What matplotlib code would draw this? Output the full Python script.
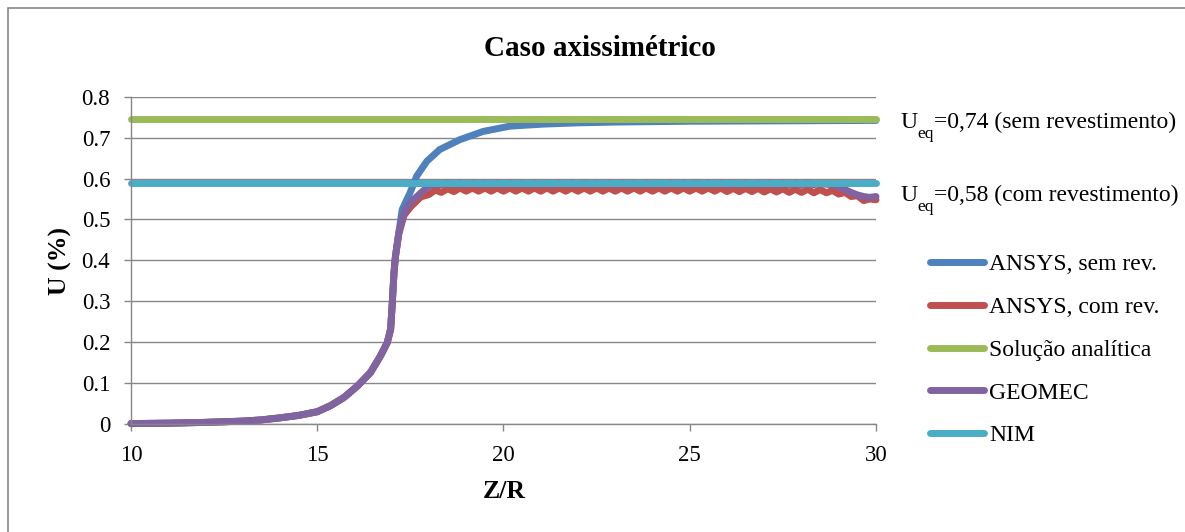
import matplotlib
matplotlib.use("Agg")
import matplotlib.pyplot as plt
from matplotlib.patches import Rectangle

plt.rcParams['font.family'] = ['Liberation Serif', 'DejaVu Serif']

# curva ANSYS sem revestimento
z_sem = [10, 11, 12, 13, 13.5, 14, 14.5, 15, 15.36, 15.72, 16.08, 16.43, 16.7, 16.88,
         16.97, 17.01, 17.06, 17.1, 17.19, 17.28, 17.49, 17.67, 17.94, 18.29, 18.83,
         19.45, 20.17, 21.07, 21.96, 23, 25, 27.5, 30]
u_sem = [0.001, 0.002, 0.004, 0.007, 0.010, 0.015, 0.021, 0.030, 0.045, 0.065, 0.093,
         0.126, 0.167, 0.199, 0.232, 0.289, 0.370, 0.410, 0.468, 0.524, 0.565, 0.606,
         0.642, 0.671, 0.695, 0.715, 0.728, 0.733, 0.736, 0.738, 0.740, 0.741, 0.742]

# trecho de subida (comum a ANSYS com rev. e GEOMEC)
z_rise = [10, 11, 12, 13, 13.5, 14, 14.5, 15, 15.36, 15.72, 16.08, 16.43, 16.7, 16.88,
          16.97, 17.01, 17.06, 17.1, 17.19, 17.33, 17.5, 17.78]
u_com_rise = [0.001, 0.002, 0.004, 0.007, 0.010, 0.015, 0.021, 0.030, 0.045, 0.065, 0.093,
              0.126, 0.167, 0.199, 0.232, 0.289, 0.370, 0.410, 0.465, 0.510, 0.530, 0.555]
u_geo_rise = [0.001, 0.002, 0.004, 0.007, 0.010, 0.015, 0.021, 0.030, 0.045, 0.065, 0.093,
              0.126, 0.167, 0.199, 0.232, 0.289, 0.370, 0.410, 0.468, 0.516, 0.541, 0.565]

# trecho final (oscilacoes)
z_tail = [18.0, 18.17, 18.33, 18.5, 18.67, 18.83, 19.0, 19.17, 19.33, 19.5, 19.67, 19.83,
          20.0, 20.17, 20.33, 20.5, 20.67, 20.83, 21.0, 21.17, 21.33, 21.5, 21.67, 21.83,
          22.0, 22.17, 22.33, 22.5, 22.67, 22.83, 23.0, 23.17, 23.33, 23.5, 23.67, 23.83,
          24.0, 24.17, 24.33, 24.5, 24.67, 24.83, 25.0, 25.17, 25.33, 25.5, 25.67, 25.83,
          26.0, 26.17, 26.33, 26.5, 26.67, 26.83, 27.0, 27.17, 27.33, 27.5, 27.67, 27.83,
          28.0, 28.17, 28.33, 28.5, 28.67, 28.83, 29.0, 29.17, 29.33, 29.5, 29.67, 29.83, 30.0]
u_com_tail = [0.561, 0.572, 0.566, 0.575, 0.568, 0.577, 0.569, 0.577, 0.569, 0.577, 0.569, 0.577,
              0.569, 0.577, 0.569, 0.577, 0.569, 0.577, 0.569, 0.577, 0.569, 0.577, 0.569, 0.577,
              0.569, 0.577, 0.569, 0.577, 0.569, 0.577, 0.569, 0.577, 0.569, 0.577, 0.569, 0.577,
              0.569, 0.577, 0.569, 0.577, 0.569, 0.577, 0.569, 0.577, 0.569, 0.577, 0.569, 0.577,
              0.568, 0.576, 0.568, 0.576, 0.568, 0.576, 0.567, 0.575, 0.567, 0.575, 0.566, 0.574,
              0.566, 0.574, 0.565, 0.573, 0.565, 0.571, 0.562, 0.566, 0.556, 0.558, 0.546, 0.550, 0.548]
u_geo_tail = [0.582, 0.586, 0.585, 0.589, 0.585, 0.589, 0.585, 0.589, 0.585, 0.589, 0.585, 0.589,
              0.585, 0.589, 0.585, 0.589, 0.585, 0.589, 0.585, 0.589, 0.585, 0.589, 0.585, 0.589,
              0.585, 0.589, 0.585, 0.589, 0.585, 0.589, 0.585, 0.589, 0.585, 0.589, 0.585, 0.589,
              0.585, 0.589, 0.585, 0.589, 0.585, 0.589, 0.585, 0.589, 0.585, 0.589, 0.585, 0.589,
              0.585, 0.589, 0.585, 0.589, 0.585, 0.589, 0.585, 0.589, 0.585, 0.589, 0.585, 0.589,
              0.585, 0.589, 0.585, 0.588, 0.586, 0.585, 0.580, 0.573, 0.566, 0.560, 0.556, 0.554, 0.556]

u_analitica = 0.745
u_nim = 0.59

x_ticks = [10, 15, 20, 25, 30]
y_ticks = [0, 0.1, 0.2, 0.3, 0.4, 0.5, 0.6, 0.7, 0.8]
y_ticklabels = ['0', '0.1', '0.2', '0.3', '0.4', '0.5', '0.6', '0.7', '0.8']

labels = ['ANSYS, sem rev.', 'ANSYS, com rev.', 'Solução analítica', 'GEOMEC', 'NIM']
colors = ['#4F81BD', '#C0504D', '#9BBB59', '#8064A2', '#4BACC6']

# textos U_eq: (base, subscrito, resto)
notas = [('U', 'eq', '=0,74 (sem revestimento)'),
         ('U', 'eq', '=0,58 (com revestimento)')]

W, H = 1185, 532
fig = plt.figure(figsize=(W / 100, H / 100), dpi=100)
ax = fig.add_axes([131 / W, 1 - 424 / H, (876 - 131) / W, (424 - 96.7) / H])

lw = 5
kw = dict(lw=lw, solid_capstyle='round', solid_joinstyle='round', clip_on=False)
ax.plot(z_sem, u_sem, color=colors[0], label=labels[0], **kw)
ax.plot(z_rise + z_tail, u_com_rise + u_com_tail, color=colors[1], label=labels[1], **kw)
ax.plot([10, 30], [u_analitica, u_analitica], color=colors[2], label=labels[2], **kw)
ax.plot(z_rise + z_tail, u_geo_rise + u_geo_tail, color=colors[3], label=labels[3], **kw)
ax.plot([10, 30], [u_nim, u_nim], color=colors[4], label=labels[4], **kw)

ax.set_xlim(10, 30)
ax.set_ylim(0, 0.8)
ax.set_xticks(x_ticks)
ax.set_xticklabels([str(t) for t in x_ticks])
ax.set_yticks(y_ticks)
ax.set_yticklabels(y_ticklabels)
ax.tick_params(labelsize=16.5, length=5, width=1, color='#878787', pad=10)
ax.yaxis.grid(True, color='#878787', lw=1)
ax.set_axisbelow(True)
for s in ['top', 'right']:
    ax.spines[s].set_visible(False)
for s in ['left', 'bottom']:
    ax.spines[s].set_color('#878787')
    ax.spines[s].set_linewidth(1)

fig.text(600 / W, 1 - 48 / H, 'Caso axissimétrico', ha='center', va='center',
         fontsize=21, fontweight='bold')
fig.text(60 / W, 1 - 261 / H, 'U (%)', ha='center', va='center', rotation=90,
         fontsize=18.5, fontweight='bold')
fig.text(504 / W, 1 - 491 / H, 'Z/R', ha='center', va='center',
         fontsize=18.5, fontweight='bold')

# U_eq com subscrito rebaixado, montado em pedacos
renderer = fig.canvas.get_renderer()
for (base, sub, resto), yb in zip(notas, [128, 201]):
    t1 = fig.text(900 / W, 1 - yb / H, base, ha='left', va='baseline', fontsize=17)
    x1 = t1.get_window_extent(renderer).x1
    t2 = fig.text(x1 / W, 1 - (yb + 10) / H, sub, ha='left', va='baseline', fontsize=12.5)
    x2 = t2.get_window_extent(renderer).x1
    fig.text(x2 / W, 1 - yb / H, resto, ha='left', va='baseline', fontsize=17)

ax.legend(loc='center left', bbox_to_anchor=(930 / W, 1 - 350 / H),
          bbox_transform=fig.transFigure, frameon=False, fontsize=17,
          borderpad=0, borderaxespad=0, handlelength=2.3, handletextpad=0.2,
          labelspacing=0.9)

fig.add_artist(Rectangle((8 / W, -0.1), 1.2, 1 - 8 / H + 0.1, transform=fig.transFigure,
                         fill=False, edgecolor='#868686', lw=1.2))

fig.savefig('out.png', dpi=100)
